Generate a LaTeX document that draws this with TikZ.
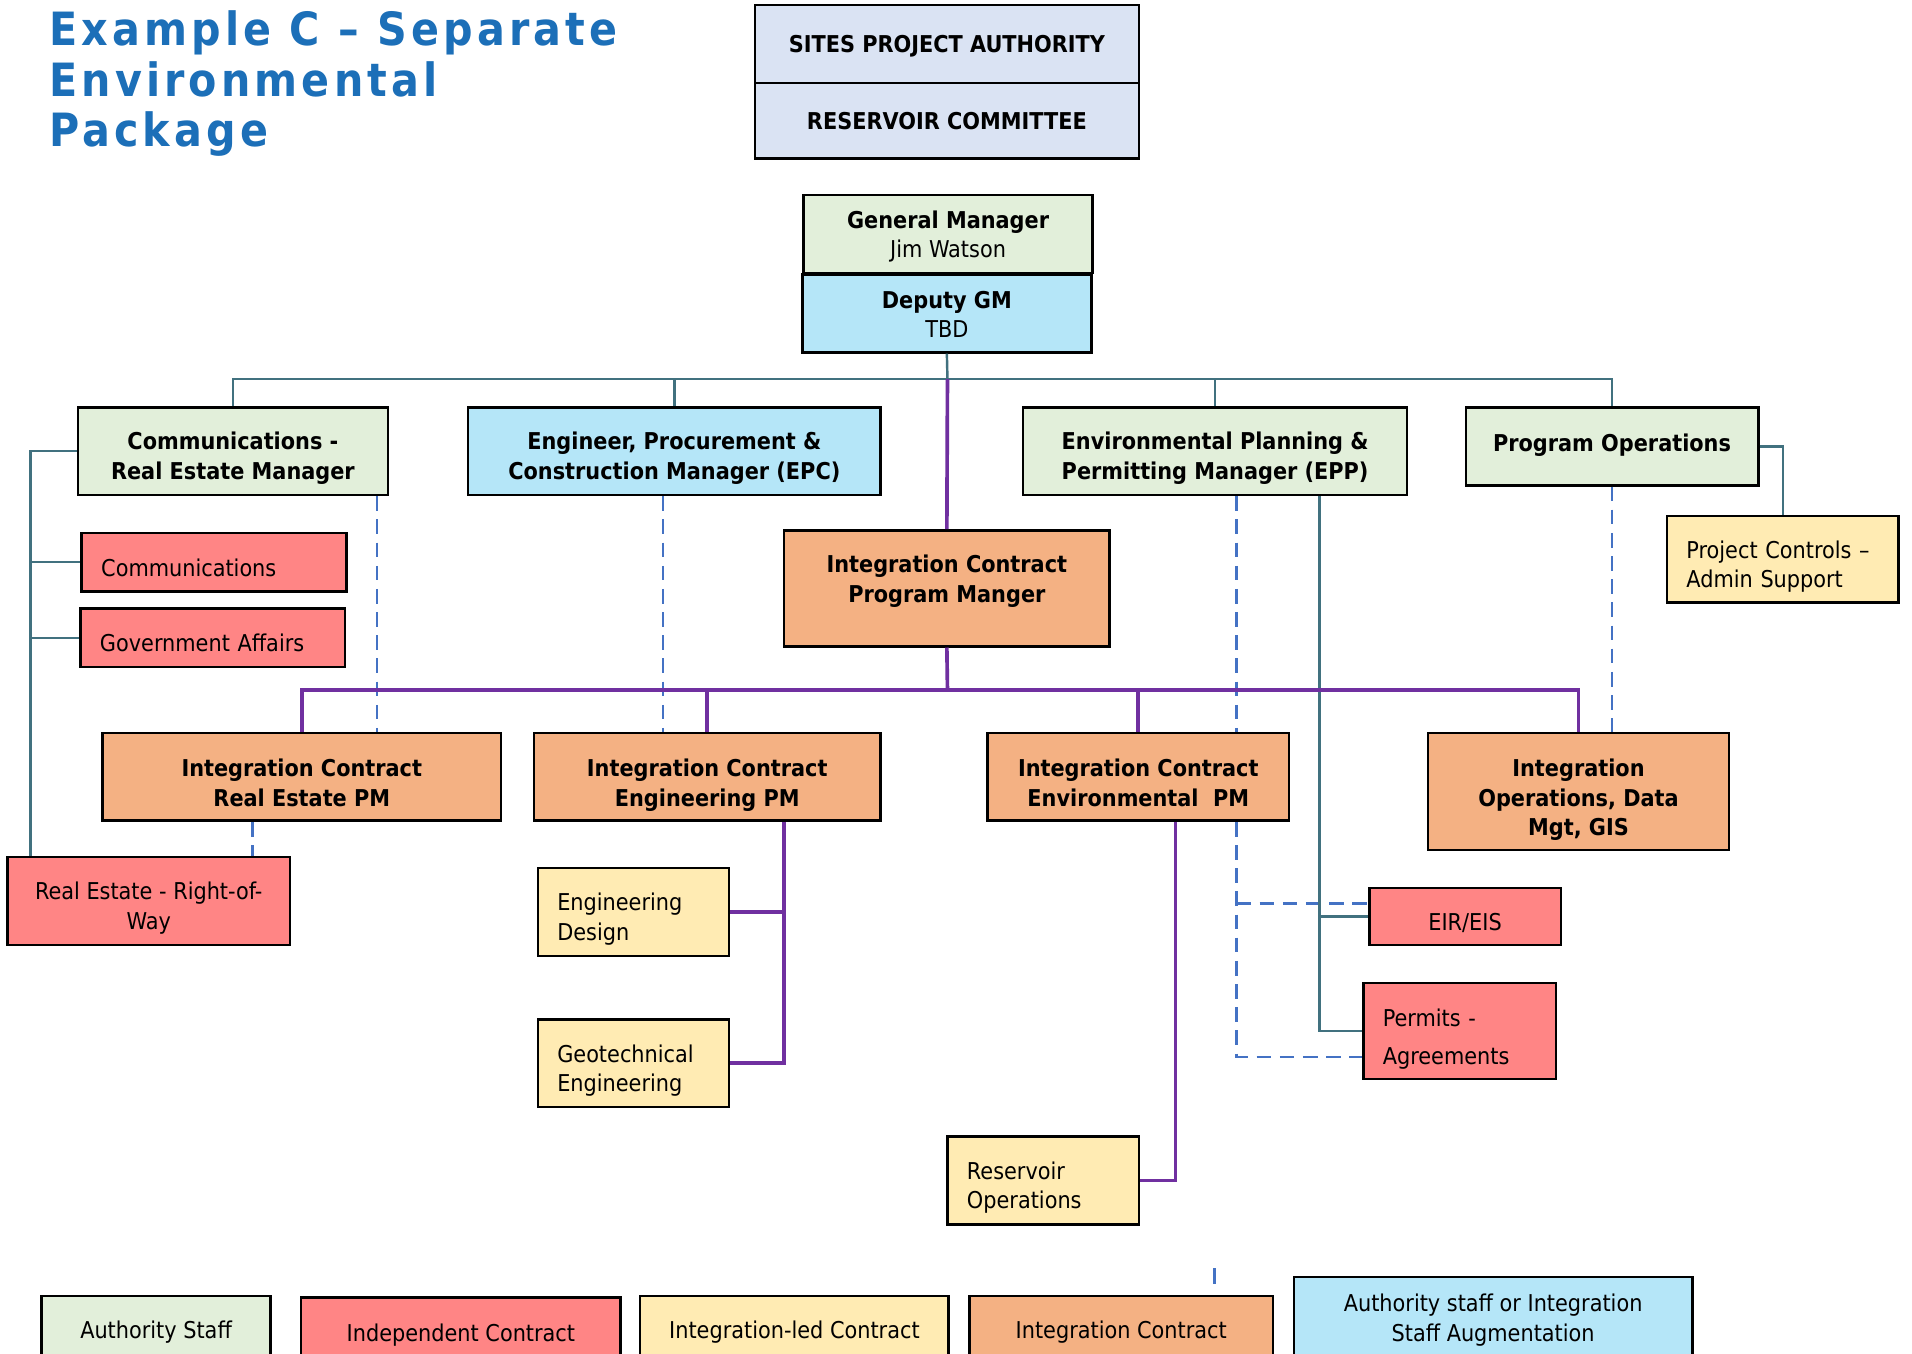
\documentclass[tikz,border=0pt]{standalone}
\usepackage{fontspec}
\setmainfont{DejaVu Sans Condensed}
\newfontfamily\titlefont[LetterSpace=9]{DejaVu Sans Condensed}
\usetikzlibrary{calc}

\definecolor{cgreen}{HTML}{E2EFDA}
\definecolor{ccyan}{HTML}{B5E6F8}
\definecolor{clav}{HTML}{DAE3F3}
\definecolor{cred}{HTML}{FF8585}
\definecolor{cyel}{HTML}{FFEBB3}
\definecolor{corg}{HTML}{F4B183}
\definecolor{cteal}{HTML}{41717F}
\definecolor{cpur}{HTML}{7030A0}
\definecolor{cdash}{HTML}{4472C4}
\definecolor{ctitle}{HTML}{1C6FB8}

\newcommand\bodysize{\fontsize{9.5}{12}\selectfont}
% strut that fixes the height of a first text line
\newcommand\fl[1]{\rule{0pt}{#1}}

\begin{document}
\begin{tikzpicture}[x=0.5pt,y=-0.5pt,
  bx/.style 2 args={draw=black, line width=1pt, inner sep=0pt,
    minimum width=#1*0.5pt, minimum height=#2*0.5pt, align=center, font=\bodysize},
  % first-line height and last-line depth of the text block
  tx/.style 2 args={execute at begin node={\fl{#1}},
    execute at end node={\rule[-#2]{0pt}{#2}}},
  bld/.style={font=\bodysize\bfseries},
  lt/.style={align=left, text width=#1},
  tl/.style={draw=cteal, line width=1pt},
  pl/.style={draw=cpur, line width=1.5pt},
  dsh/.style={draw=cdash, line width=0.9pt, dash pattern=on 6pt off 3.5pt},
  ttl/.style={anchor=base west, inner sep=0pt, text=ctitle, font=\titlefont\fontsize{18.8}{22}\selectfont\bfseries}]

\useasboundingbox (0,0) rectangle (1568,1110);
\clip (0,0) rectangle (1568,1110);
\fill[white] (0,0) rectangle (1568,1110);

% heading
\node[ttl] (t1) at (40,37) {Example C – Separate};
\node[ttl] (t2) at (40,79) {Environmental};
\node[ttl] (t3) at (40,120) {Package};

% governance
\node[bx={315}{64}, fill=clav, bld, tx={10pt}{3pt}] (spa) at (776.5,36) {SITES PROJECT AUTHORITY};
\node[bx={315}{62}, fill=clav, bld, tx={10pt}{3pt}] (rc) at (776.5,99) {RESERVOIR COMMITTEE};

% management
\node[bx={237}{64}, fill=cgreen, tx={10pt}{3pt}] (gm) at (777.5,192) {\fl{10pt}\textbf{General Manager}\\Jim Watson};
\node[bx={237}{64}, fill=ccyan, tx={11pt}{3pt}] (dgm) at (776.5,257) {\fl{11pt}\textbf{Deputy GM}\\TBD};

\node[bx={254}{72}, fill=cgreen, bld, tx={14pt}{3pt}] (crm) at (191,370) {\fl{14pt}Communications -\\Real Estate Manager};
\node[bx={338}{72}, fill=ccyan, bld, tx={14pt}{3pt}] (epc) at (553,370) {\fl{14pt}Engineer, Procurement \&\\Construction Manager (EPC)};
\node[bx={315}{72}, fill=cgreen, bld, tx={14pt}{3pt}] (epp) at (996.5,370) {\fl{14pt}Environmental Planning \&\\Permitting Manager (EPP)};
\node[bx={240}{64}, fill=cgreen, bld, tx={7pt}{3pt}] (po) at (1322,366) {Program Operations};
\node[bx={190}{71}, fill=cyel, lt=79pt, tx={14.5pt}{3pt}] (pc) at (1462,458.5) {Project Controls –\\Admin Support};

\node[bx={267}{95}, fill=corg, bld, tx={7.5pt}{8pt}] (icpm) at (776.5,482.5) {Integration Contract\\Program Manger};

\node[bx={217}{48}, fill=cred, lt=92.5pt, tx={15pt}{3pt}] (comm) at (175.5,461) {Communications};
\node[bx={217}{48}, fill=cred, lt=92.5pt, tx={14pt}{3pt}] (ga) at (174.5,523) {Government Affairs};

\node[bx={327}{72}, fill=corg, bld, tx={15pt}{3pt}] (icre) at (247.5,637) {\fl{15pt}Integration Contract\\Real Estate PM};
\node[bx={284}{72}, fill=corg, bld, tx={15pt}{3pt}] (iceng) at (580,637) {\fl{15pt}Integration Contract\\Engineering PM};
\node[bx={247}{72}, fill=corg, bld, tx={15pt}{3pt}] (icenv) at (933.5,637) {\fl{15pt}Integration Contract\\Environmental\ \ PM};
\node[bx={247}{96}, fill=corg, bld, tx={15pt}{3pt}] (iodg) at (1294.5,649) {\fl{15pt}Integration\\Operations, Data\\Mgt, GIS};

\node[bx={232}{72}, fill=cred, tx={14pt}{3pt}] (rerow) at (122,739) {\fl{14pt}Real Estate - Right-of-\\Way};
\node[bx={157}{72}, fill=cyel, lt=62.5pt, tx={14pt}{3pt}] (ed) at (519.5,748) {Engineering\\Design};
\node[bx={157}{72}, fill=cyel, lt=62.5pt, tx={14pt}{3pt}] (ge) at (519.5,872) {Geotechnical\\Engineering};
\node[bx={157}{72}, fill=cyel, lt=62.5pt, tx={14pt}{3pt}] (ro) at (855.5,968) {Reservoir\\Operations};
\node[bx={157}{47}, fill=cred, tx={14.5pt}{3pt}] (eir) at (1201.5,751.5) {EIR/EIS};
\node[bx={158}{79}, fill=cred, lt=63pt, tx={15pt}{3pt}] (perm) at (1197,845.5) {Permits -\\[3.5pt]Agreements};

% legend
\node[bx={188}{57}, fill=cgreen, tx={9.5pt}{3pt}] (la) at (128,1091.5) {Authority Staff};
\node[bx={262}{56}, fill=cred, tx={11pt}{3pt}] (lb) at (378,1092) {Independent Contract};
\node[bx={253}{57}, fill=cyel, tx={9.5pt}{3pt}] (lc) at (651.5,1091.5) {Integration-led Contract};
\node[bx={249}{57}, fill=corg, tx={9.5pt}{3pt}] (ld) at (919.5,1091.5) {Integration Contract};
\node[bx={327}{73}, fill=ccyan, tx={7.5pt}{3pt}] (le) at (1224.5,1083.5) {Authority staff or Integration\\Staff Augmentation};

% routing coordinates
\coordinate (bus) at (777,311);
\coordinate (pbus) at (777,566);
\coordinate (lx) at (25,0);
\coordinate (ex) at (1082,0);
\coordinate (gx) at (643,0);
\coordinate (rx) at (964,0);
\coordinate (d1) at (309,0);
\coordinate (d2) at (544,0);
\coordinate (d3) at (1014,0);
\coordinate (d4) at (207,0);
\coordinate (tk1) at (996,1040);
\coordinate (tk2) at (996,1053);

% dotted-line relationships
\draw[dsh] (d1 |- crm.south) -- (d1 |- icre.north);
\draw[dsh] (d2 |- epc.south) -- (d2 |- iceng.north);
\draw[dsh] (d3 |- epp.south) -- (d3 |- icenv.north);
\draw[dsh] (po.south) -- (po.south |- iodg.north);
\draw[dsh] (d4 |- icre.south) -- (d4 |- rerow.north);
\draw[dsh] (d3 |- icenv.south) |- ($(perm.west)+(0,21)$);
\draw[dsh] (d3 |- eir.west) ++(0,-10.5) -- ($(eir.west)+(0,-10.5)$);
\draw[cdash, line width=0.9pt] (tk1) -- (tk2);

% authority reporting lines
\draw[tl] (dgm.south) -- (bus);
\draw[tl] (crm.north) |- (po.north |- bus) -- (po.north);
\draw[tl] (epc.north) -- (epc.north |- bus);
\draw[tl] (epp.north) -- (epp.north |- bus);
\draw[tl] (crm.west) -| (lx |- rerow.north);
\draw[tl] (lx |- comm.west) -- (comm.west);
\draw[tl] (lx |- ga.west) -- (ga.west);
\draw[tl] (po.east) -| (pc.north);
\draw[tl] (ex |- epp.south) |- (perm.west);
\draw[tl] (ex |- eir.west) -- (eir.west);

% integration reporting lines
\draw[pl] (bus) -- (icpm.north);
\draw[pl] (icpm.south) -- (pbus);
\draw[pl] (icre.north) |- (iodg.north |- pbus) -- (iodg.north);
\draw[pl] (iceng.north) -- (iceng.north |- pbus);
\draw[pl] (icenv.north) -- (icenv.north |- pbus);
\draw[pl] (gx |- iceng.south) |- (ge.east);
\draw[pl] (gx |- ed.east) -- (ed.east);
\draw[pl] (rx |- icenv.south) |- (ro.east);
\end{tikzpicture}
\end{document}
